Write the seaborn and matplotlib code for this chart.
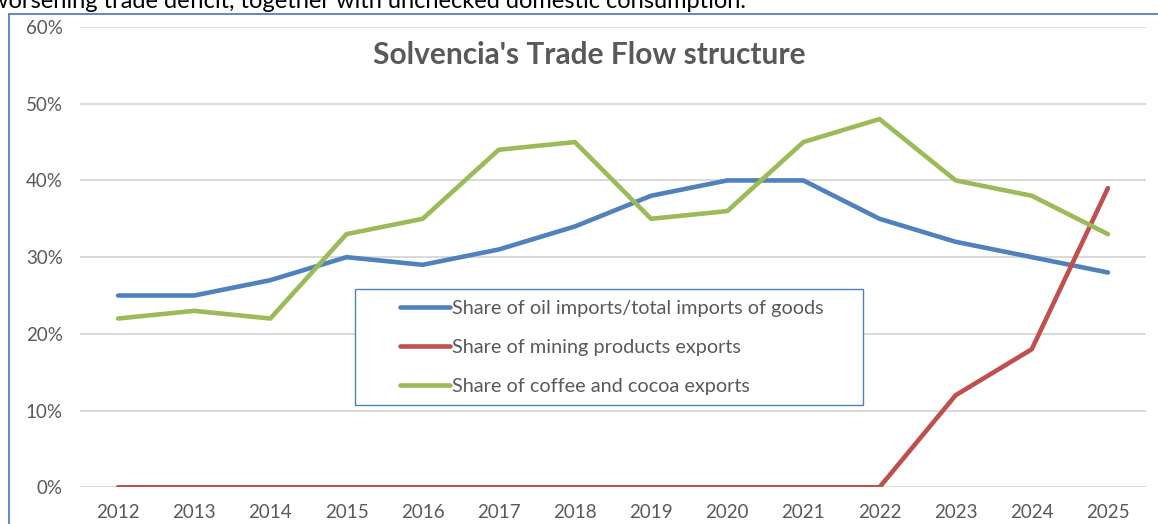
import matplotlib
matplotlib.use("Agg")
import matplotlib.pyplot as plt
from matplotlib.lines import Line2D
from matplotlib.legend_handler import HandlerLine2D
from matplotlib.ticker import PercentFormatter, MultipleLocator
import seaborn as sns
import pandas as pd

years = ["2012", "2013", "2014", "2015", "2016", "2017", "2018",
         "2019", "2020", "2021", "2022", "2023", "2024", "2025"]
oil_imports = [25, 25, 27, 30, 29, 31, 34, 38, 40, 40, 35, 32, 30, 28]
mining_exports = [0, 0, 0, 0, 0, 0, 0, 0, 0, 0, 0, 12, 18, 39]
coffee_cocoa_exports = [22, 23, 22, 33, 35, 44, 45, 35, 36, 45, 48, 40, 38, 33]

series_names = [
    "Share of oil imports/total imports of goods",
    "Share of mining products exports",
    "Share of coffee and cocoa exports",
]
series_colors = ["#4F81BD", "#C0504D", "#9BBB59"]

frames = []
for name, vals in zip(series_names, [oil_imports, mining_exports, coffee_cocoa_exports]):
    frames.append(pd.DataFrame({"year": years, "share": [v / 100 for v in vals], "series": name}))
df = pd.concat(frames, ignore_index=True)

sns.set_style("white")
plt.rcParams["font.family"] = ["Lato", "DejaVu Sans"]

W, H = 1158, 524
fig = plt.figure(figsize=(W / 100, H / 100), dpi=100)
ax = fig.add_axes([80 / W, (H - 487.3) / H, 1066 / W, 460.3 / H])

sns.lineplot(data=df, x="year", y="share", hue="series", palette=series_colors,
             hue_order=series_names, sort=False, linewidth=3.3, ax=ax, legend=False,
             solid_capstyle="round", zorder=3)

ax.set_xlim(-0.5, len(years) - 0.5)
ax.set_ylim(0, 0.6)
ax.yaxis.set_major_locator(MultipleLocator(0.1))
ax.yaxis.set_major_formatter(PercentFormatter(1.0, decimals=0))
ax.grid(axis="y", color="#D9D9D9", linewidth=1.4, zorder=0)
ax.grid(axis="x", visible=False)
for s in ax.spines.values():
    s.set_visible(False)
ax.set_xlabel("")
ax.set_ylabel("")
ax.tick_params(axis="both", length=0, labelsize=13.5, labelcolor="#595959")
ax.tick_params(axis="y", pad=12.5)
ax.tick_params(axis="x", pad=12)

ax.set_title("Solvencia's Trade Flow structure", fontsize=21.5, fontweight="bold",
             color="#595959", x=0.478, y=0.9196, pad=0)


class InsetLineHandler(HandlerLine2D):
    """Legend key line that occupies only the right part of the handle box."""

    def __init__(self, start_frac=0.4, **kw):
        super().__init__(**kw)
        self.start_frac = start_frac

    def create_artists(self, legend, orig_handle, xdescent, ydescent,
                       width, height, fontsize, trans):
        y = (height - ydescent) / 2
        x0 = -xdescent + width * self.start_frac
        line = Line2D([x0, -xdescent + width], [y, y])
        self.update_prop(line, orig_handle, legend)
        line.set_transform(trans)
        return [line]


handles = [Line2D([0], [0], color=c, linewidth=3.3, solid_capstyle="round")
           for c in series_colors]
leg = ax.legend(handles, series_names, loc="upper left",
                bbox_to_anchor=(0.258, 0.4302, 0.4763, 0.0), mode="expand",
                fontsize=14.3, labelcolor="#595959", frameon=True, fancybox=False,
                framealpha=1, edgecolor="#4F81BD", handlelength=4.25,
                handletextpad=0.1, labelspacing=1.1, borderpad=0.54,
                borderaxespad=0,
                handler_map={Line2D: InsetLineHandler(start_frac=0.41)})
leg.get_frame().set_linewidth(1.0)
leg.set_zorder(4)

# chart frame (top and left edges) and the running text above it
fig.add_artist(Line2D([8.5 / W, 1.0], [1 - 14 / H, 1 - 14 / H],
                      transform=fig.transFigure, color="#4F81BD", linewidth=1.3))
fig.add_artist(Line2D([8.5 / W, 8.5 / W], [0, 1 - 14 / H],
                      transform=fig.transFigure, color="#4F81BD", linewidth=1.3))
fig.text(-10 / W, 1 - 8 / H,
         "worsening trade deficit, together with unchecked domestic consumption.",
         fontsize=17, color="black", va="baseline", ha="left")

fig.savefig("out.png", dpi=100, facecolor="white")
